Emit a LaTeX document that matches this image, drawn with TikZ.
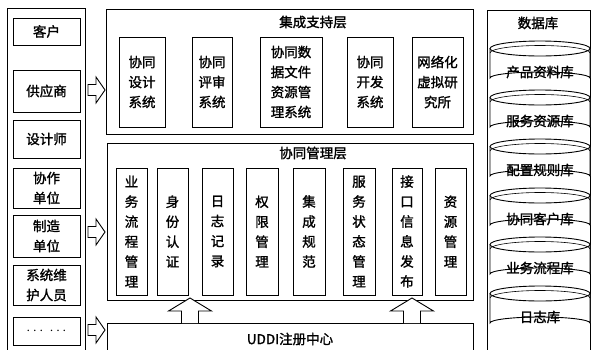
\documentclass[tikz,border=0pt]{standalone}
\usepackage{fontspec}
\newfontfamily\cjk[FakeBold=1.5]{Noto Sans CJK SC}
\begin{document}
\begin{tikzpicture}[x=1pt,y=-1pt,
  every node/.style={font=\cjk\fontsize{13.5}{20}\selectfont},
  panel/.style={draw, line width=0.9pt},
  ibox/.style={draw, line width=0.9pt, inner sep=0pt, align=center},
  title/.style={inner sep=0pt},
  barrow/.style={draw, line width=0.9pt, fill=white, line join=miter}
]
\useasboundingbox (0,0) rectangle (592,349);

% ---------- left panel ----------
\draw[panel] (7,352) -- (7,8) -- (85,8) -- (85,352);
\node[ibox, minimum width=67pt, minimum height=27pt] (kh) at (46.5,31.5) {客户};
\node[ibox, minimum width=67pt, minimum height=42pt] (gys) at (46.5,91) {供应商};
\node[ibox, minimum width=67pt, minimum height=38pt] (sjs) at (46.5,139) {设计师};
\node[ibox, minimum width=67pt, minimum height=40pt] (xz) at (46.5,188) {协作\\单位};
\node[ibox, minimum width=67pt, minimum height=42pt] (zz) at (46.5,236) {制造\\单位};
\node[ibox, minimum width=67pt, minimum height=40pt] (xt) at (46.5,285) {系统维\\护人员};
\node[ibox, minimum width=67pt, minimum height=28pt] (dd) at (46.5,331) {$\cdots\;\cdots$};

% ---------- top layer ----------
\draw[panel] (106,9) rectangle (473,134);
\node[title] (t1) at (313,22) {集成支持层};
\node[ibox, minimum width=46pt, minimum height=90pt] (a1) at (142,82) {协同\\设计\\系统};
\node[ibox, minimum width=40pt, minimum height=90pt] (a2) at (212,82) {协同\\评审\\系统};
\node[ibox, minimum width=62pt, minimum height=90pt] (a3) at (291,82) {协同数\\据文件\\资源管\\理系统};
\node[ibox, minimum width=46pt, minimum height=90pt] (a4) at (370,82) {协同\\开发\\系统};
\node[ibox, minimum width=51pt, minimum height=90pt] (a5) at (437.5,82) {网络化\\虚拟研\\究所};

% ---------- management layer ----------
\draw[panel] (107,143) rectangle (473,300);
\node[title] (t2) at (313,153) {协同管理层};
\node[ibox, minimum width=31pt, minimum height=127pt] (b1) at (131.5,231.5) {业\\务\\流\\程\\管\\理};
\node[ibox, minimum width=31pt, minimum height=127pt] (b2) at (172.5,231.5) {身\\份\\认\\证};
\node[ibox, minimum width=31pt, minimum height=127pt] (b3) at (217.5,231.5) {日\\志\\记\\录};
\node[ibox, minimum width=32pt, minimum height=127pt] (b4) at (262,231.5) {权\\限\\管\\理};
\node[ibox, minimum width=32pt, minimum height=127pt] (b5) at (309,231.5) {集\\成\\规\\范};
\node[ibox, minimum width=32pt, minimum height=127pt] (b6) at (359,231.5) {服\\务\\状\\态\\管\\理};
\node[ibox, minimum width=30pt, minimum height=127pt] (b7) at (407,231.5) {接\\口\\信\\息\\发\\布};
\node[ibox, minimum width=31pt, minimum height=127pt] (b8) at (450.5,231.5) {资\\源\\管\\理};

% ---------- UDDI ----------
\draw[panel] (107,352) -- (107,323) -- (473,323) -- (473,352);
\node[title] (uddi) at (290,339) {UDDI注册中心};

% ---------- up arrows ----------
\foreach \cx in {190,412}{
  \draw[barrow] (\cx-8.5,323) -- (\cx-8.5,311) -- (\cx-21.5,311) -- (\cx,298)
    -- (\cx+21.5,311) -- (\cx+8.5,311) -- (\cx+8.5,323);
}

% ---------- right arrows ----------
\foreach \cy in {90,232,330}{
  \draw[barrow] (88,\cy-5.5) -- (96,\cy-5.5) -- (96,\cy-13) -- (105,\cy)
    -- (96,\cy+13) -- (96,\cy+5.5) -- (88,\cy+5.5) -- cycle;
}

% ---------- database panel ----------
\draw[panel] (487,352) -- (487,10) -- (590,10) -- (590,352);
\node[title] (t3) at (538,23) {数据库};
\foreach \ty/\lab in {41/产品资料库,90/服务资源库,139/配置规则库,188/协同客户库,237/业务流程库,286/日志库}{
  \draw[line width=0.9pt, fill=white]
    (490,\ty+7.5) -- (490,\ty+37) arc[start angle=180,end angle=360,x radius=50,y radius=6]
    -- (590,\ty+7.5);
  \draw[line width=0.9pt] (540,\ty+7.5) ellipse[x radius=50,y radius=7.5];
  \draw[line width=0.6pt] (490,\ty+12) arc[start angle=180,end angle=360,x radius=50,y radius=7.5];
  \node[title] at (540,\ty+31) {\lab};
}
\end{tikzpicture}
\end{document}
